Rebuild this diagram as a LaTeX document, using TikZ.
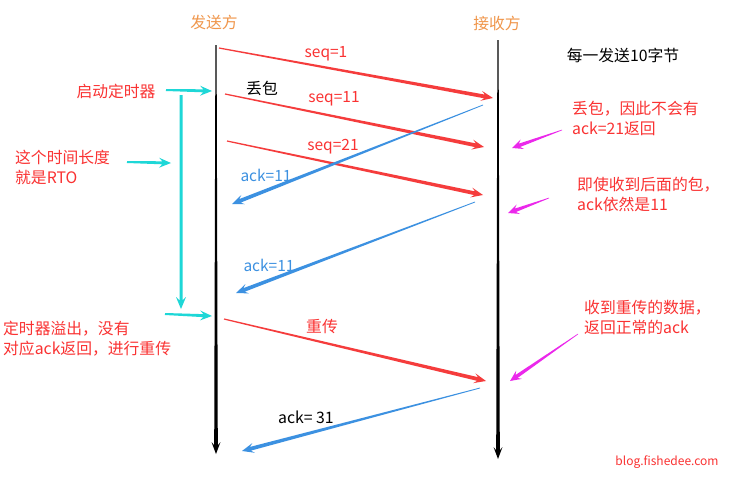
\documentclass[tikz,border=0pt]{standalone}
\usepackage{fontspec}
\setmainfont{Noto Sans CJK SC}
\usetikzlibrary{calc}
\definecolor{cOrange}{RGB}{240,150,75}
\definecolor{cRed}{RGB}{245,60,60}
\definecolor{cText}{RGB}{250,50,50}
\definecolor{cBlue}{RGB}{60,145,225}
\definecolor{cCyan}{RGB}{30,215,215}
\definecolor{cMag}{RGB}{235,40,235}
% tapered arrow: #1 colour, #2 start, #3 end, #4 tail half width, #5 shaft half width, #6 head half width, #7 head length (number, pt)
\newcommand{\tarrow}[7]{%
  \pgfmathsetmacro\tmpsl{0.72*#7}%
  \coordinate (tmpH) at ($(#3)!#7pt!(#2)$);
  \coordinate (tmpS) at ($(#3)!\tmpsl pt!(#2)$);
  \fill[#1] ($(#2)!#4!90:(#3)$) -- ($(tmpS)!#5!90:(#3)$) -- ($(tmpH)!#6!90:(#3)$) -- (#3)
    -- ($(tmpH)!#6!-90:(#3)$) -- ($(tmpS)!#5!-90:(#3)$) -- ($(#2)!#4!-90:(#3)$) -- cycle;
}
\tikzset{
  lbl/.style={inner sep=0pt, font=\fontsize{15.8}{20}\selectfont},
  redtxt/.style={lbl, text=cText, align=left, anchor=west},
  seqlbl/.style={inner sep=0pt, font=\fontsize{15.5}{18}\selectfont, text=cText},
  acklbl/.style={inner sep=0pt, font=\fontsize{15.5}{18}\selectfont, text=cBlue},
}
\begin{document}
\begin{tikzpicture}[x=1pt,y=-1pt]
\useasboundingbox (0,0) rectangle (729,480);
\fill[white] (0,0) rectangle (729,480);
% coordinates
\coordinate (S0) at (216,45);  \coordinate (S1) at (216,454);
\coordinate (R0) at (498,40);  \coordinate (R1) at (498,459);
\coordinate (a1) at (219,48);  \coordinate (b1) at (493,98);
\coordinate (a2) at (225,94);  \coordinate (b2) at (484,147);
\coordinate (a3) at (227,141); \coordinate (b3) at (483,195);
\coordinate (a4) at (224,319); \coordinate (b4) at (486,381);
\coordinate (c1) at (483,105); \coordinate (d1) at (232,204);
\coordinate (c2) at (475,202); \coordinate (d2) at (236,293);
\coordinate (c3) at (480,388); \coordinate (d3) at (242,451);
\coordinate (e1) at (166,90);  \coordinate (f1) at (212,91);
\coordinate (e2) at (127,162); \coordinate (f2) at (171,163);
\coordinate (e3) at (181,95);  \coordinate (f3) at (181,309);
\coordinate (e4) at (165,314); \coordinate (f4) at (212,316);
\coordinate (g1) at (562,130); \coordinate (h1) at (512,148);
\coordinate (g2) at (549,198); \coordinate (h2) at (508,213);
\coordinate (g3) at (578,334); \coordinate (h3) at (510,381);
% time lines
\tarrow{black}{S0}{S1}{0.6pt}{1.8pt}{4.5pt}{12}
\tarrow{black}{R0}{R1}{0.6pt}{1.8pt}{4.5pt}{12}
% data segments
\tarrow{cRed}{a1}{b1}{0.6pt}{1.9pt}{5pt}{12}
\tarrow{cRed}{a2}{b2}{0.6pt}{1.9pt}{5pt}{12}
\tarrow{cRed}{a3}{b3}{0.6pt}{1.9pt}{5pt}{12}
\tarrow{cRed}{a4}{b4}{0.6pt}{1.9pt}{5pt}{12}
% acks
\tarrow{cBlue}{c1}{d1}{0.4pt}{1.9pt}{5pt}{12}
\tarrow{cBlue}{c2}{d2}{0.4pt}{1.9pt}{5pt}{12}
\tarrow{cBlue}{c3}{d3}{0.4pt}{1.9pt}{5pt}{12}
% timer
\tarrow{cCyan}{e1}{f1}{1pt}{1.5pt}{5pt}{12}
\tarrow{cCyan}{e2}{f2}{1pt}{1.5pt}{5pt}{12}
\tarrow{cCyan}{e3}{f3}{1.5pt}{1.5pt}{5pt}{12}
\tarrow{cCyan}{e4}{f4}{1pt}{1.5pt}{5pt}{12}
% comments
\tarrow{cMag}{g1}{h1}{0.3pt}{1.8pt}{5pt}{11}
\tarrow{cMag}{g2}{h2}{0.3pt}{1.8pt}{5pt}{11}
\tarrow{cMag}{g3}{h3}{0.3pt}{1.8pt}{5pt}{11}
% labels
\node[lbl, text=cOrange] (snd) at (214,22) {发送方};
\node[lbl, text=cOrange] (rcv) at (497,23) {接收方};
\node[lbl] (note) at (623,55) {每一发送10字节};
\node[lbl] (loss) at (262,88) {丢包};
\node[seqlbl] (l1) at (326,54) {seq=1};
\node[seqlbl] (l2) at (334,99) {seq=11};
\node[seqlbl] (l3) at (333,147) {seq=21};
\node[lbl, text=cText] (l4) at (322,327) {重传};
\node[acklbl] (k1) at (266,175) {ack=11};
\node[acklbl] (k2) at (269,265) {ack=11};
\node[lbl] (k3) at (306,417) {ack= 31};
\node[lbl, text=cText] (t1) at (116,91) {启动定时器};
\node[redtxt] (t2) at (15,167) {这个时间长度\\就是RTO};
\node[redtxt] (t3) at (3,339) {定时器溢出，没有\\对应ack返回，进行重传};
\node[redtxt] (t4) at (572,118) {丢包，因此不会有\\ack=21返回};
\node[redtxt] (t5) at (577,194) {即使收到后面的包，\\ack依然是11};
\node[redtxt] (t6) at (584,317) {收到重传的数据，\\返回正常的ack};
\node[inner sep=0pt, font=\fontsize{12}{14}\selectfont, text=cText] (blog) at (667,462) {blog.fishedee.com};
\end{tikzpicture}
\end{document}
